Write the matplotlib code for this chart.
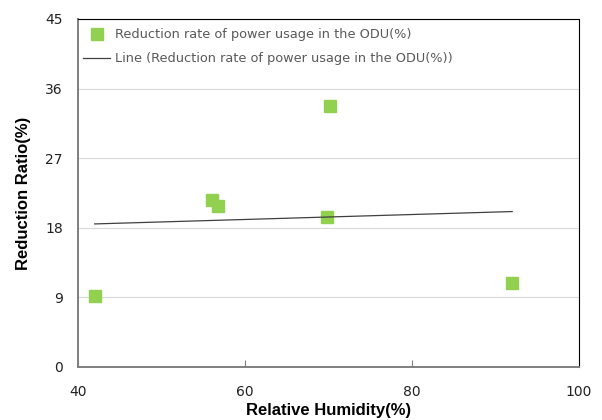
import matplotlib
matplotlib.use("Agg")
import matplotlib.pyplot as plt

# data
humidity = [42.0, 56.0, 56.8, 70.2, 69.8, 92.0]
reduction = [9.2, 21.6, 20.8, 33.8, 19.4, 10.8]
# linear trendline endpoints as drawn in the chart
trend_x = [42.0, 92.0]
trend_y = [18.5, 20.1]
x_ticks = [40, 60, 80, 100]
y_ticks = [0, 9, 18, 27, 36, 45]

series_label = "Reduction rate of power usage in the ODU(%)"
trend_label = "Line (Reduction rate of power usage in the ODU(%))"

plt.rcParams['font.family'] = ['DejaVu Sans']

fig = plt.figure(figsize=(6.02, 4.2), dpi=100)
ax = fig.add_axes([0.1296, 0.1262, 0.9618 - 0.1296, 0.9548 - 0.1262])

ax.plot(humidity, reduction, linestyle='none', marker='s', markersize=8.5,
        color='#92D050', label=series_label)
ax.plot(trend_x, trend_y, color='#404040', linewidth=0.9, label=trend_label)

ax.set_xlim(40, 100)
ax.set_ylim(0, 45)
ax.set_xticks(x_ticks)
ax.set_yticks(y_ticks)
ax.yaxis.grid(True, color='#d9d9d9', linewidth=0.8)
ax.set_axisbelow(True)

ax.tick_params(axis='x', direction='in', length=5, width=0.8, color='#7f7f7f',
               labelsize=10, pad=13, labelcolor='#222222')
ax.tick_params(axis='y', length=0, labelsize=10, pad=11, labelcolor='#222222')

for side in ['left', 'bottom']:
    ax.spines[side].set_color('#7f7f7f')
    ax.spines[side].set_linewidth(1.4)
for side in ['top', 'right']:
    ax.spines[side].set_color('#000000')
    ax.spines[side].set_linewidth(0.8)

ax.set_xlabel('Relative Humidity(%)', fontsize=12, fontweight='bold',
              family='Liberation Sans', labelpad=3)
ax.set_ylabel('Reduction Ratio(%)', fontsize=12, fontweight='bold',
              family='Liberation Sans', labelpad=10)

leg = ax.legend(loc='upper left', bbox_to_anchor=(0.0, 0.988), frameon=False,
                fontsize=9.3, handlelength=2.1, borderaxespad=0, labelspacing=0.85,
                handletextpad=0.35, borderpad=0.4)
for t in leg.get_texts():
    t.set_color('#595959')

fig.savefig('out.png', dpi=100)
